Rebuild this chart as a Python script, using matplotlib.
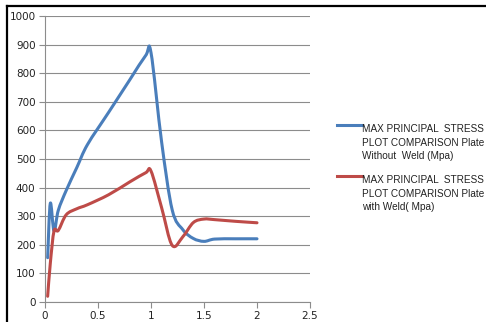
import numpy as np
import matplotlib
matplotlib.use("Agg")
from matplotlib import pyplot as plt
from matplotlib.path import Path
from matplotlib.patches import PathPatch
from matplotlib.lines import Line2D

# data
x_pos = [0.025, 0.05, 0.085, 0.125, 0.2, 0.3, 0.4, 0.6, 0.8, 0.95, 1.0,
         1.1, 1.2, 1.3, 1.4, 1.5, 1.6, 1.8, 2.0]
without_weld = [155, 345, 248, 320, 390, 470, 550, 663, 777, 862, 872,
                560, 322, 253, 222, 212, 220, 221, 221]
with_weld = [20, 135, 248, 250, 305, 326, 340, 375, 420, 452, 458,
             330, 198, 228, 278, 290, 288, 282, 277]
labels = ['MAX PRINCIPAL  STRESS\nPLOT COMPARISON Plate\nWithout  Weld (Mpa)',
          'MAX PRINCIPAL  STRESS\nPLOT COMPARISON Plate\nwith Weld( Mpa)']
colors = ['#4A7EBB', '#BE4B48']
x_ticks = [0, 0.5, 1, 1.5, 2, 2.5]
x_tick_labels = ['0', '0.5', '1', '1.5', '2', '2.5']
y_ticks = np.arange(0, 1001, 100)


def smooth_path(xs, ys):
    """Excel-like smoothed line: Catmull-Rom turned into cubic Beziers."""
    pts = np.column_stack([xs, ys]).astype(float)
    ext = np.vstack([pts[0], pts, pts[-1]])
    verts = [pts[0]]
    codes = [Path.MOVETO]
    for i in range(len(pts) - 1):
        p0, p1, p2, p3 = ext[i], ext[i + 1], ext[i + 2], ext[i + 3]
        verts += [p1 + (p2 - p0) / 6.0, p2 - (p3 - p1) / 6.0, p2]
        codes += [Path.CURVE4] * 3
    return Path(verts, codes)


fig = plt.figure(figsize=(4.86, 3.22), dpi=100)
ax = fig.add_axes([45 / 486, 1 - 302 / 322, 265 / 486, 286 / 322])

for ys, col in zip([without_weld, with_weld], colors):
    ax.add_patch(PathPatch(smooth_path(x_pos, ys), fill=False, edgecolor=col,
                           lw=2.2, capstyle='round', joinstyle='round',
                           zorder=3))

ax.set_xlim(0, 2.5)
ax.set_ylim(0, 1000)
ax.set_xticks(x_ticks)
ax.set_xticklabels(x_tick_labels)
ax.set_yticks(y_ticks)
ax.grid(axis='y', color='#8C8C8C', lw=0.8)
ax.set_axisbelow(True)
for side in ['top', 'right']:
    ax.spines[side].set_visible(False)
for side in ['left', 'bottom']:
    ax.spines[side].set_color('#8C8C8C')
    ax.spines[side].set_linewidth(0.8)
ax.tick_params(axis='both', color='#8C8C8C', length=4.3, width=0.8,
               labelsize=7.5, labelcolor='#222222', pad=2.5)

# legend on the right
legend_rows = [125, 176]
for row, lab, col in zip(legend_rows, labels, colors):
    fig.add_artist(Line2D([337 / 486, 362 / 486], [1 - row / 322] * 2,
                          color=col, lw=2.2))
    fig.text(362 / 486, 1 - (row - 1) / 322, lab, fontsize=7.2,
             family='Liberation Sans', color='#222222', va='top', ha='left',
             linespacing=1.45)

# black frame edges of the chart area
fig.add_artist(Line2D([7 / 486, 1.0], [1 - 5.5 / 322] * 2, color='black',
                      lw=1.6))
fig.add_artist(Line2D([7 / 486] * 2, [0, 1 - 5.5 / 322], color='black',
                      lw=1.6))

fig.savefig('out.png', dpi=100)
